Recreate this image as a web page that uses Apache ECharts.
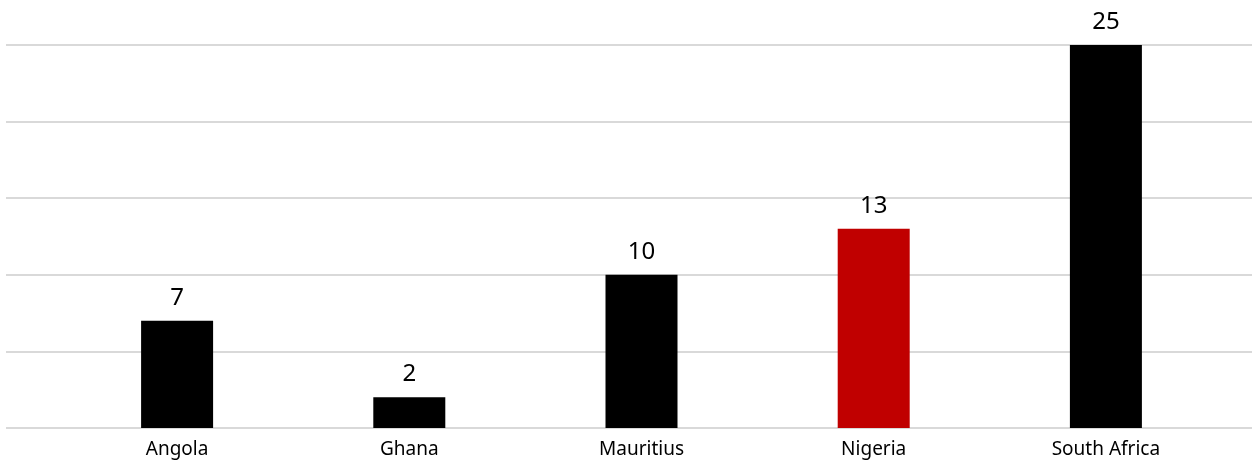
<!DOCTYPE html>
<html><head><meta charset="utf-8">
<script src="https://cdn.jsdelivr.net/npm/echarts@6/dist/echarts.min.js"></script>
<style>html,body{margin:0;padding:0;background:#fff}#c{width:1253px;height:464px}</style>
</head><body><div id="c"></div>
<script>
const categories = ['Angola', 'Ghana', 'Mauritius', 'Nigeria', 'South Africa'];
const values = [7, 2, 10, 13, 25];
const barColors = ['#000000', '#000000', '#000000', '#c00000', '#000000'];
const yMin = 0, yMax = 25, yStep = 5;

const chart = echarts.init(document.getElementById('c'), null, {renderer: 'canvas'});
const font = '"Noto Sans", "Open Sans", sans-serif';
chart.setOption({
  animation: false,
  grid: [
    {left: 6, right: 1, top: 45, bottom: 36, containLabel: false},
    {left: 61, right: 31, top: 45, bottom: 36, containLabel: false}
  ],
  xAxis: [
    {gridIndex: 0, type: 'value', show: false, min: 0, max: 1},
    {gridIndex: 1, type: 'category', data: categories,
     axisLine: {show: false}, axisTick: {show: false},
     axisLabel: {color: '#000', fontSize: 19, fontFamily: font, margin: 12}}
  ],
  yAxis: [
    {gridIndex: 0, type: 'value', min: yMin, max: yMax, interval: yStep,
     axisLabel: {show: false}, axisLine: {show: false}, axisTick: {show: false},
     splitLine: {lineStyle: {color: '#d9d9d9', width: 2}}},
    {gridIndex: 1, type: 'value', min: yMin, max: yMax, interval: yStep, show: false,
     splitLine: {show: false}}
  ],
  series: [{
    type: 'bar', xAxisIndex: 1, yAxisIndex: 1,
    data: values.map((v, i) => ({value: v, itemStyle: {color: barColors[i]}})),
    barWidth: 72,
    label: {show: true, position: 'top', distance: 11, color: '#000', fontSize: 24, fontFamily: font}
  }]
});
</script></body></html>
